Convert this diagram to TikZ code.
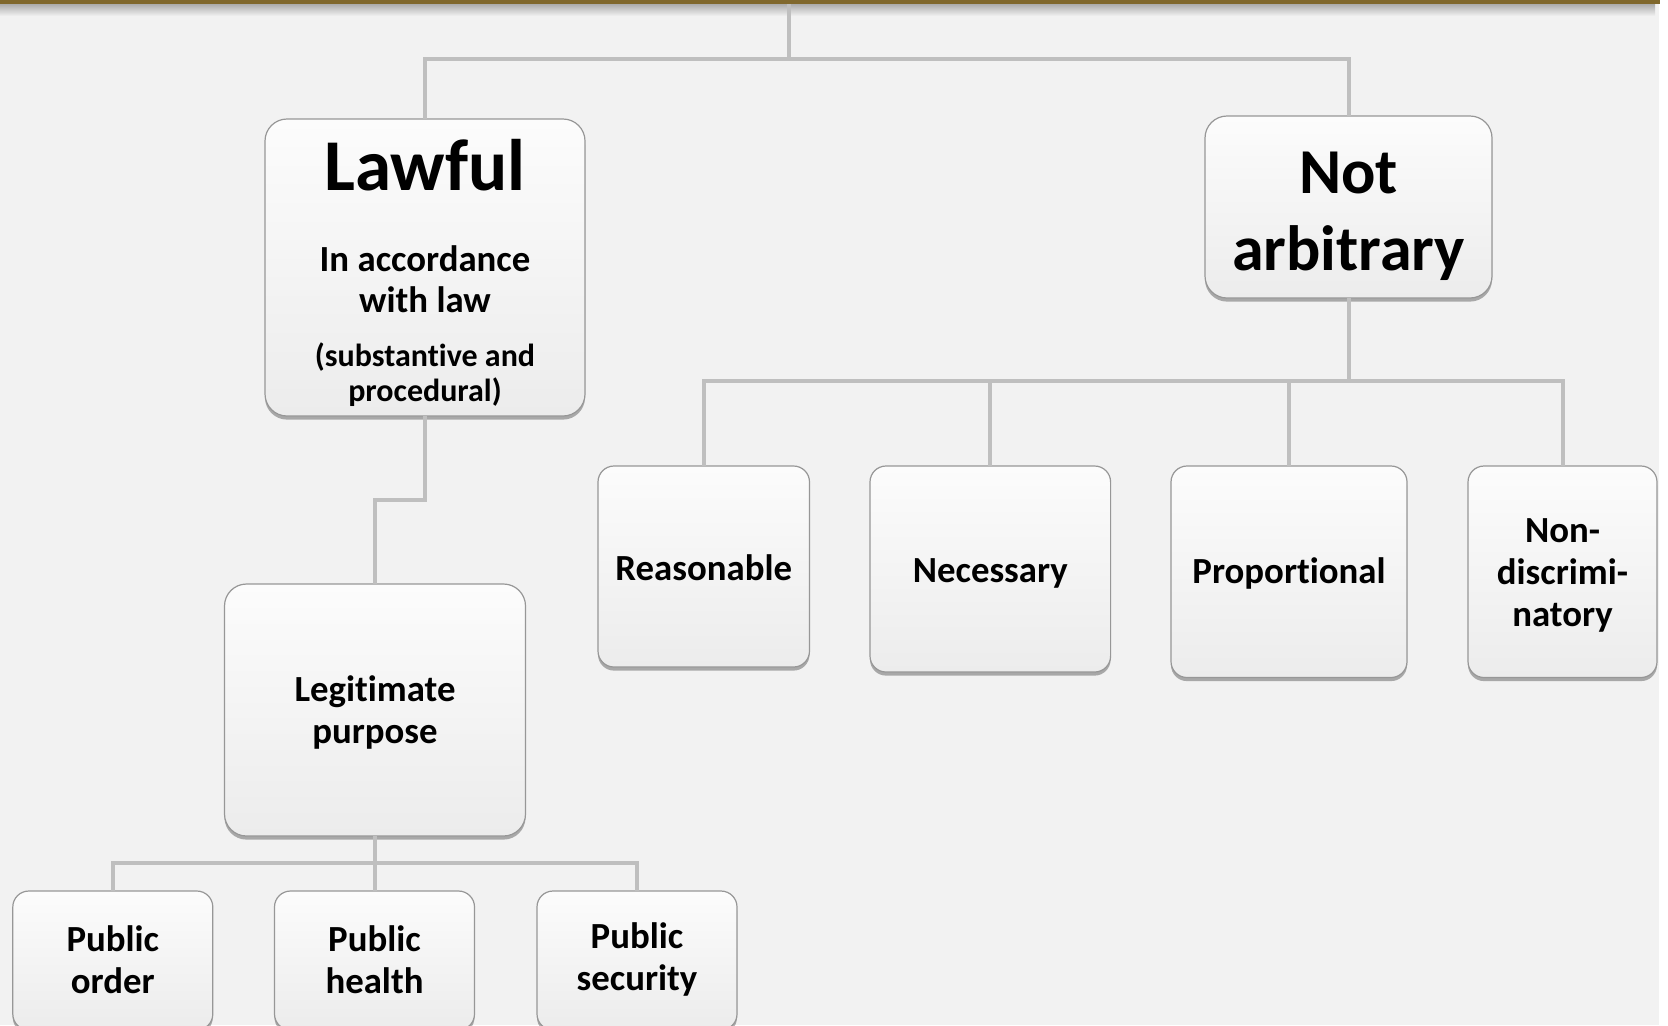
\documentclass[tikz,border=0pt]{standalone}
\usepackage{fontspec}
\setmainfont[Ligatures={NoCommon}]{Carlito}
\usetikzlibrary{shadows}
\definecolor{bg}{HTML}{F2F2F2}
\definecolor{conncol}{HTML}{BFBFBF}
\definecolor{boxedge}{HTML}{979797}
\definecolor{boxtop}{HTML}{FCFCFC}
\definecolor{boxbot}{HTML}{ECECEC}
\definecolor{bargold}{RGB}{128,104,45}
\begin{document}
\begin{tikzpicture}[x=0.5pt,y=-0.5pt,
  box/.style={draw=boxedge, line width=0.6pt, rounded corners=8pt,
    top color=boxtop, bottom color=boxbot, inner sep=0pt, outer sep=0pt,
    drop shadow={shadow xshift=0pt, shadow yshift=-1.8pt, fill=black, opacity=0.3}},
  bigbox/.style={box, rounded corners=11pt},
  lbl/.style={inner sep=0pt, align=center, font=\fontsize{18.4}{21}\selectfont\bfseries},
  conn/.style={draw=conncol, line width=2pt},
  txt/.style={anchor=base, inner sep=0pt, font=\bfseries}]
\useasboundingbox (0,0) rectangle (1668,1025);
% background
\fill[white] (0,0) rectangle (1668,1025);
\fill[bg] (0,0) rectangle (1659,1025);
% top bar with shadow
\shade[top color=black!35, bottom color=bg] (0,3) rectangle (1655,16);
\fill[bargold] (0,0) rectangle (1660,4);

% boxes
\node[bigbox, minimum width=160pt, minimum height=148.5pt] (law) at (425,267.5) {};
\node[txt, font=\fontsize{36.5}{40}\selectfont\bfseries] (lawt) at (425,190) {Lawful};
\node[txt, font=\fontsize{18.4}{21}\selectfont\bfseries] (lawa) at (425,271) {In accordance};
\node[txt, font=\fontsize{18.4}{21}\selectfont\bfseries] (lawb) at (425,312) {with law};
\node[txt, font=\fontsize{16}{18}\selectfont\bfseries] (lawc) at (425,366) {(substantive and};
\node[txt, font=\fontsize{16}{18}\selectfont\bfseries] (lawd) at (425,401) {procedural)};

\node[bigbox, minimum width=143.5pt, minimum height=91pt] (notarb) at (1348.5,207) {};
\node[txt, font=\fontsize{32}{38}\selectfont\bfseries] (nota) at (1348.5,193) {Not};
\node[txt, font=\fontsize{32}{38}\selectfont\bfseries] (notb) at (1348.5,270) {arbitrary};

\node[bigbox, minimum width=150.5pt, minimum height=126pt] (legit) at (375,710) {};
\node[lbl] (legitt) at ([yshift=-1pt]legit.center) {Legitimate\\purpose};

\node[box, minimum width=105.75pt, minimum height=100.5pt] (reas) at (703.75,566.5) {};
\node[lbl] (reast) at ([yshift=-0.5pt]reas.center) {Reasonable};
\node[box, minimum width=120.3pt, minimum height=103pt] (nec) at (990.3,569) {};
\node[lbl] (nect) at ([yshift=-2pt]nec.center) {Necessary};
\node[box, minimum width=118pt, minimum height=105.75pt] (prop) at (1289,571.75) {};
\node[lbl] (propt) at ([yshift=-1pt]prop.center) {Proportional};
\node[box, minimum width=94.5pt, minimum height=105.75pt] (nond) at (1562.5,571.75) {};
\node[lbl] (nondt) at ([yshift=-2pt]nond.center) {Non-\\discrimi-\\natory};

\node[box, minimum width=100pt, minimum height=69.5pt] (po) at (112.8,960.5) {};
\node[lbl] (pot) at ([yshift=0.5pt]po.center) {Public\\order};
\node[box, minimum width=100pt, minimum height=69.5pt] (ph) at (374.5,960.5) {};
\node[lbl] (pht) at ([yshift=0.5pt]ph.center) {Public\\health};
\node[box, minimum width=100pt, minimum height=69.5pt] (ps) at (637,960.5) {};
\node[lbl] (pst) at ([yshift=0.5pt]ps.center) {Public\\security};

% connectors
\coordinate (top) at (789,4);
\coordinate (bus1) at (789,59);
\coordinate (jog) at (0,500);
\coordinate (bus2) at (0,381);
\coordinate (bus3) at (0,863);
\draw[conn] (top) -- (bus1) -| (law.north);
\draw[conn] (bus1) -| (notarb.north);
\draw[conn] (law.south) -- (law.south |- jog) -| (legit.north);
\draw[conn] (notarb.south) -- (notarb.south |- bus2);
\draw[conn] (notarb.south |- bus2) -| (reas.north);
\draw[conn] (notarb.south |- bus2) -| (nec.north);
\draw[conn] (notarb.south |- bus2) -| (prop.north);
\draw[conn] (notarb.south |- bus2) -| (nond.north);
\draw[conn] (legit.south) -- (legit.south |- bus3);
\draw[conn] (legit.south |- bus3) -| (po.north);
\draw[conn] (legit.south |- bus3) -| (ph.north);
\draw[conn] (legit.south |- bus3) -| (ps.north);
\end{tikzpicture}
\end{document}
